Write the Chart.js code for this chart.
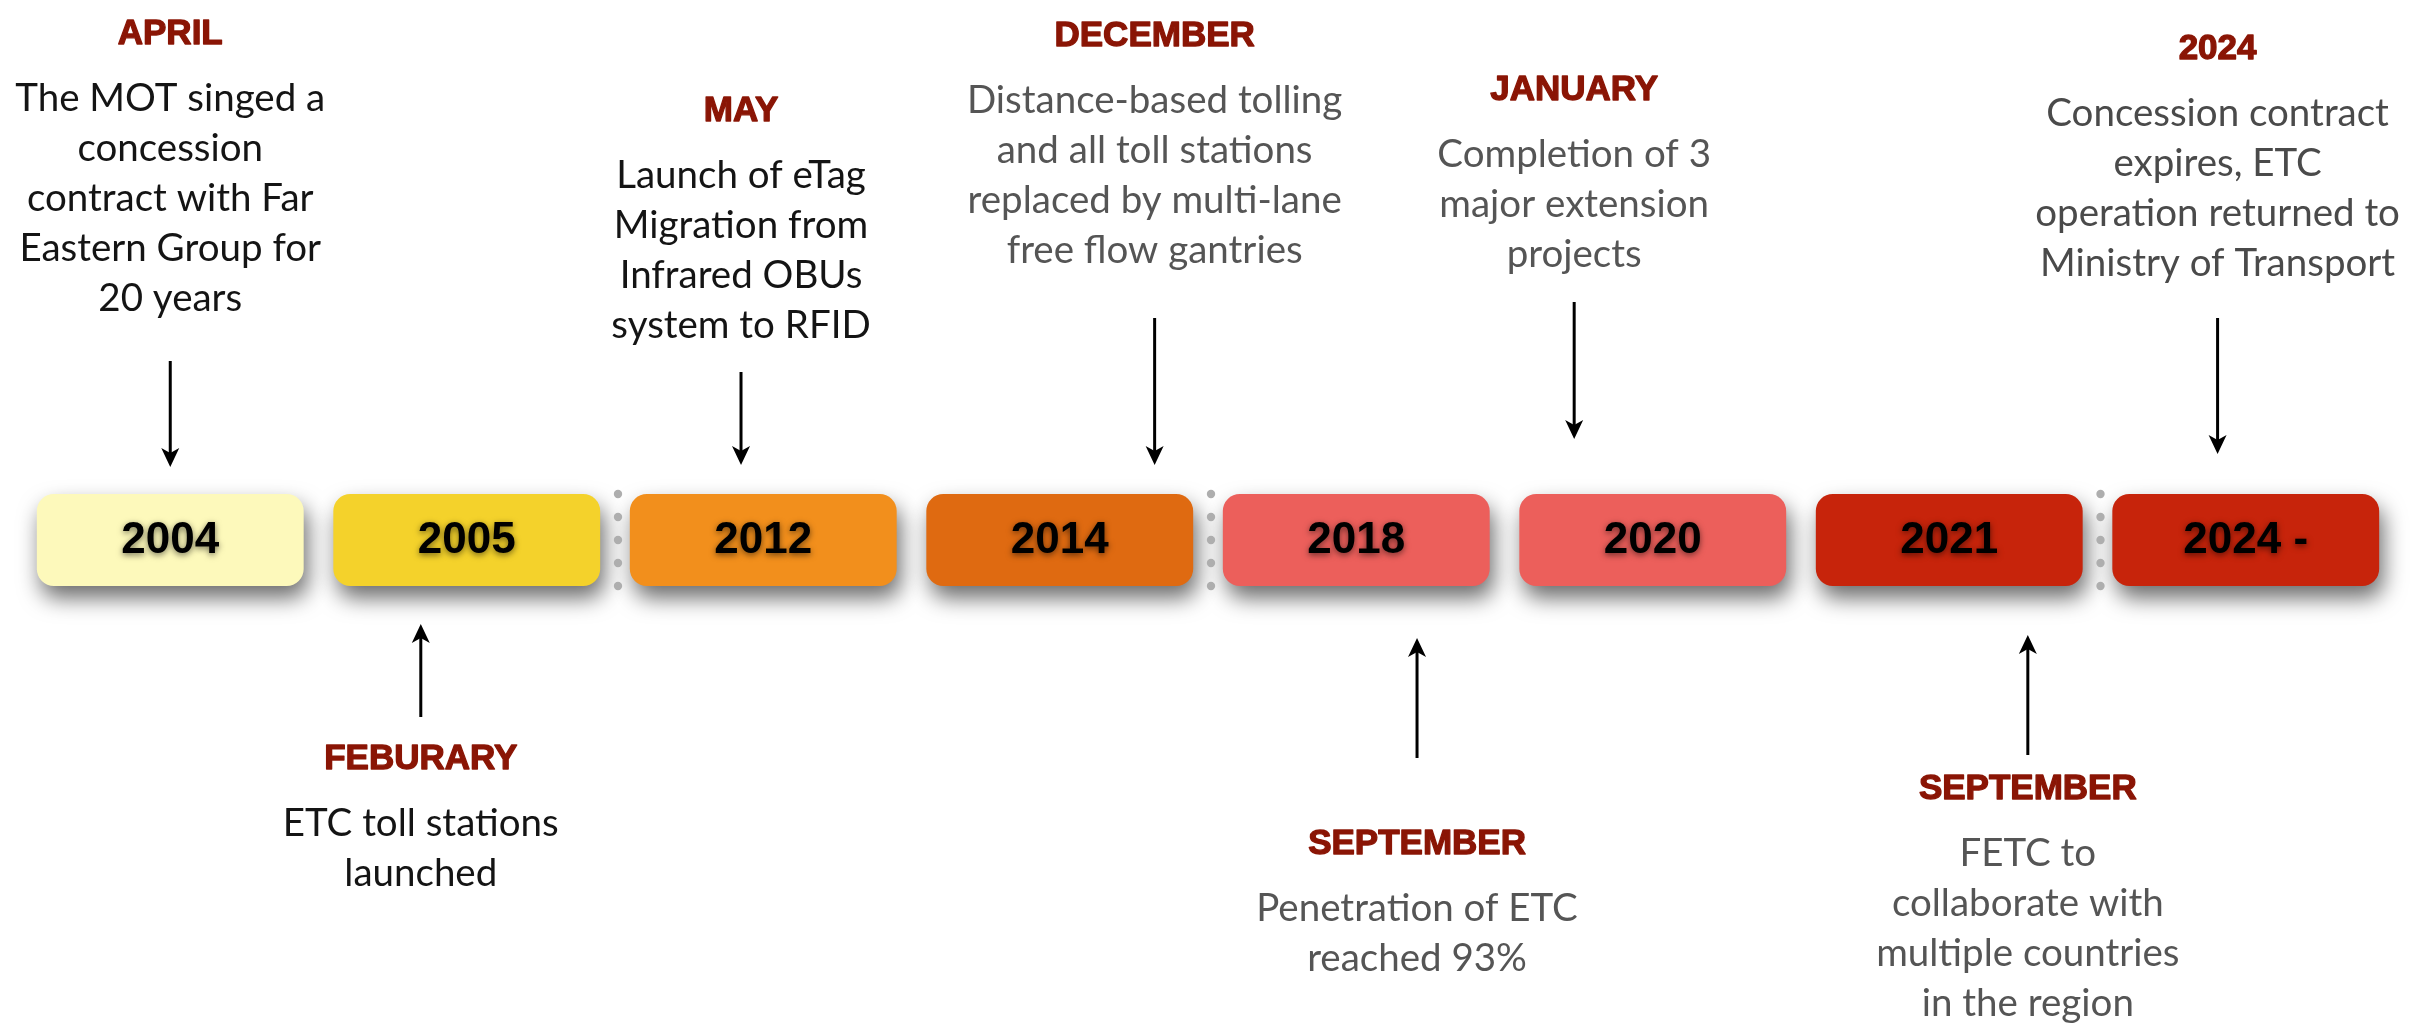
<!DOCTYPE html>
<html><head><meta charset="utf-8">
<script src="https://cdn.jsdelivr.net/npm/chart.js@4.4.1/dist/chart.umd.min.js"></script>
<style>html,body{margin:0;padding:0;background:#fff;overflow:hidden}#wrap{width:2430px;height:1025px}</style>
</head><body><div id="wrap"><canvas id="c" width="2430" height="1025"></canvas></div>
<script>
// ---- data ----
const years = ['2004','2005','2012','2014','2018','2020','2021','2024 -'];
const months = ['APRIL','FEBURARY','MAY','DECEMBER','SEPTEMBER','JANUARY','SEPTEMBER','2024'];
const descriptions = [
  ['The MOT singed a','concession','contract with Far','Eastern Group for','20 years'],
  ['ETC toll stations','launched'],
  ['Launch of eTag','Migration from','Infrared OBUs','system to RFID'],
  ['Distance-based tolling','and all toll stations','replaced by multi-lane','free flow gantries'],
  ['Penetration of ETC','reached 93%'],
  ['Completion of 3','major extension','projects'],
  ['FETC to','collaborate with','multiple countries','in the region'],
  ['Concession contract','expires, ETC','operation returned to','Ministry of Transport']
];
const calloutSide = ['above','below','above','above','below','above','below','above'];
const eraBreaks = [1,3,6];   // dotted separator after these boxes
const band = years.map(() => [-1, 1]);   // the timeline band every box spans

// ---- style ----
const boxColors = ['#FDF9BB','#F4D22B','#F28F1C','#DF6A11','#EC5F5B','#EC5F5B','#C7240B','#C7240B'];
const bodyInk = ['#141414','#141414','#141414','#555555','#555555','#555555','#555555','#4a4a4a'];
const calloutLayout = [
  {dx: 0.00,  tipGap: 27, arrowLen: 106, textGap: 50},
  {dx:-0.155, tipGap: 38, arrowLen: 93,  textGap: 52},
  {dx:-0.075, tipGap: 29, arrowLen: 93,  textGap: 34},
  {dx: 0.32,  tipGap: 29, arrowLen: 147, textGap: 55},
  {dx: 0.205, tipGap: 52, arrowLen: 120, textGap: 96},
  {dx:-0.265, tipGap: 55, arrowLen: 137, textGap: 35},
  {dx: 0.265, tipGap: 49, arrowLen: 120, textGap: 44},
  {dx:-0.095, tipGap: 40, arrowLen: 136, textGap: 42}
];
const HEAD_FONT = 'bold 35px "Liberation Sans", Arial, sans-serif';
const BODY_FONT = '38.5px Lato, "Open Sans", sans-serif';
const YEAR_FONT = 'bold 44px "Liberation Sans", Arial, sans-serif';
const HEAD_INK = '#8A1505';
const LINE_H = 50, HEAD_TO_BODY = 67;

function arrow(ctx, x, yFrom, yTo){
  const dir = yTo > yFrom ? 1 : -1;
  const headLen = 19, halfW = 9, notch = 5;
  ctx.save();
  ctx.strokeStyle = '#000'; ctx.fillStyle = '#000'; ctx.lineWidth = 3;
  ctx.beginPath(); ctx.moveTo(x, yFrom); ctx.lineTo(x, yTo - dir*headLen*0.6); ctx.stroke();
  ctx.beginPath();
  ctx.moveTo(x, yTo);
  ctx.lineTo(x - halfW, yTo - dir*headLen);
  ctx.lineTo(x, yTo - dir*(headLen - notch));
  ctx.lineTo(x + halfW, yTo - dir*headLen);
  ctx.closePath(); ctx.fill();
  ctx.restore();
}

function heading(ctx, text, x, y){
  ctx.font = HEAD_FONT; ctx.fillStyle = HEAD_INK; ctx.strokeStyle = HEAD_INK;
  ctx.lineWidth = 1.3; ctx.lineJoin = 'round';
  ctx.fillText(text, x, y); ctx.strokeText(text, x, y);
}

const timelinePlugin = {
  id: 'timeline',
  beforeDatasetsDraw(chart){
    const ctx = chart.ctx;
    ctx.save();
    ctx.shadowColor = 'rgba(0,0,0,0.58)';
    ctx.shadowBlur = 22; ctx.shadowOffsetX = 4; ctx.shadowOffsetY = 12;
  },
  afterDatasetsDraw(chart){
    const ctx = chart.ctx;
    ctx.restore();
    const bars = chart.getDatasetMeta(0).data;
    const xs = chart.scales.x;
    const pitch = xs.getPixelForValue(1) - xs.getPixelForValue(0);
    // dotted era separators
    eraBreaks.forEach(b => {
      const a = bars[b], c = bars[b+1];
      const x = (a.x + a.width/2 + c.x - c.width/2)/2 + 3;
      const top = Math.min(a.y, a.base), bot = Math.max(a.y, a.base);
      ctx.save(); ctx.fillStyle = '#AEAEAE';
      for (let k = 0; k < 5; k++){
        ctx.beginPath(); ctx.arc(x, top + k*(bot-top)/4, 4.2, 0, Math.PI*2); ctx.fill();
      }
      ctx.restore();
    });
    // year labels
    bars.forEach((bar, i) => {
      const cy = (bar.y + bar.base)/2;
      ctx.save();
      ctx.font = YEAR_FONT; ctx.fillStyle = '#000';
      ctx.textAlign = 'center'; ctx.textBaseline = 'middle';
      ctx.shadowColor = 'rgba(0,0,0,0.55)'; ctx.shadowBlur = 6; ctx.shadowOffsetY = 2;
      ctx.fillText(years[i], bar.x, cy + 1);
      ctx.restore();
    });
    // callouts
    bars.forEach((bar, i) => {
      const L = calloutLayout[i];
      const x = xs.getPixelForValue(i) + L.dx*pitch;
      const top = Math.min(bar.y, bar.base), bot = Math.max(bar.y, bar.base);
      const lines = descriptions[i];
      ctx.save(); ctx.textAlign = 'center'; ctx.textBaseline = 'alphabetic';
      if (calloutSide[i] === 'above'){
        const tip = top - L.tipGap, start = tip - L.arrowLen;
        arrow(ctx, x, start, tip);
        const lastBase = start - L.textGap;
        const firstBase = lastBase - (lines.length-1)*LINE_H;
        ctx.font = BODY_FONT; ctx.fillStyle = bodyInk[i];
        lines.forEach((t, k) => ctx.fillText(t, x, firstBase + k*LINE_H));
        heading(ctx, months[i], x, firstBase - HEAD_TO_BODY);
      } else {
        const tip = bot + L.tipGap, end = tip + L.arrowLen;
        arrow(ctx, x, end, tip);
        const headBase = end + L.textGap;
        heading(ctx, months[i], x, headBase);
        ctx.font = BODY_FONT; ctx.fillStyle = bodyInk[i];
        lines.forEach((t, k) => ctx.fillText(t, x, headBase + HEAD_TO_BODY + k*LINE_H));
      }
      ctx.restore();
    });
  }
};

new Chart(document.getElementById('c'), {
  type: 'bar',
  data: {
    labels: years,
    datasets: [{
      data: band,
      backgroundColor: boxColors,
      borderRadius: 17,
      borderSkipped: false,
      categoryPercentage: 0.9,
      barPercentage: 1.0,
      clip: false
    }]
  },
  options: {
    responsive: false,
    animation: false,
    devicePixelRatio: 1,
    layout: { padding: { left: 22, right: 36, top: 494, bottom: 439 } },
    plugins: { legend: { display: false }, tooltip: { enabled: false }, title: { display: false } },
    scales: {
      x: { type: 'category', display: false, offset: true },
      y: { type: 'linear', display: false, min: -1, max: 1 }
    }
  },
  plugins: [timelinePlugin]
});
</script>
</body></html>
